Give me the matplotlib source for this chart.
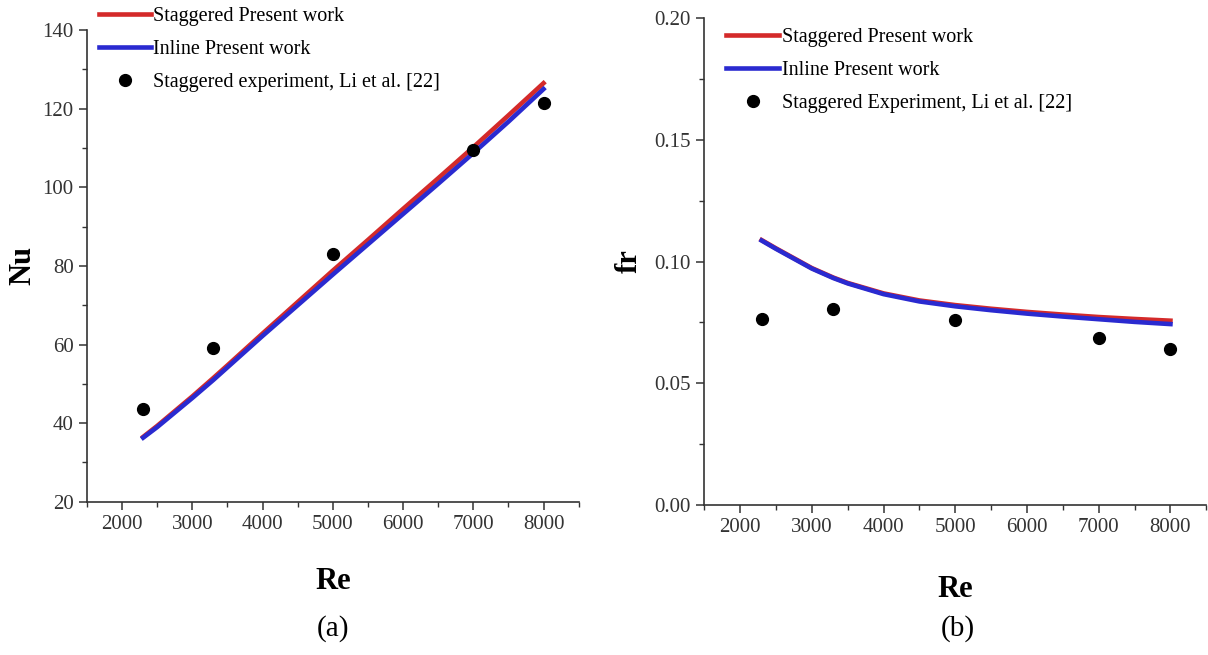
import matplotlib

matplotlib.use("Agg")
import matplotlib.pyplot as plt  # noqa: E402
from matplotlib.ticker import FormatStrFormatter, MultipleLocator  # noqa: E402

plt.rcParams["font.family"] = ["Liberation Serif", "DejaVu Serif"]

# (a) Nusselt number
re_line = [2300, 2500, 3000, 3300, 3500, 4000, 4500, 5000, 5500, 6000, 6500, 7000, 7500, 8000]
nu_stag = [36.5, 39.3, 46.8, 51.5, 54.7, 62.8, 70.8, 78.8, 86.6, 94.5, 102.3, 110.2, 118.3, 126.5]
nu_inline = [36.3, 39.0, 46.4, 51.0, 54.2, 62.2, 70.0, 77.8, 85.5, 93.2, 100.9, 108.7, 116.7, 125.0]
re_exp = [2300, 3300, 5000, 7000, 8000]
nu_exp = [43.5, 59.0, 83.0, 109.5, 121.5]

# (b) friction factor
fr_stag = [0.1088, 0.1054, 0.0973, 0.0934, 0.0912, 0.0869, 0.0840, 0.0821, 0.0806, 0.0793,
           0.0782, 0.0772, 0.0764, 0.0757]
fr_inline = [0.1086, 0.1052, 0.0971, 0.0932, 0.0910, 0.0866, 0.0836, 0.0816, 0.0800, 0.0786,
             0.0774, 0.0763, 0.0752, 0.0743]
fr_exp = [0.0765, 0.0805, 0.0760, 0.0685, 0.0640]

RED = "#d42a2a"
BLUE = "#2a2ad0"


def style_axes(ax):
    for side in ("top", "right"):
        ax.spines[side].set_visible(False)
    for side in ("left", "bottom"):
        ax.spines[side].set_color("#333333")
        ax.spines[side].set_linewidth(1.2)
    ax.tick_params(which="major", direction="out", length=6, width=1.1,
                   labelsize=15, colors="#333333")
    ax.tick_params(which="minor", direction="out", length=3.5, width=1.0, colors="#333333")
    ax.set_xlim(1500, 8500)
    ax.xaxis.set_major_locator(MultipleLocator(1000))
    ax.xaxis.set_minor_locator(MultipleLocator(500))


fig = plt.figure(figsize=(12.08, 6.55), dpi=100)

ax1 = fig.add_axes([0.072, 0.234, 0.407, 0.720])
ax1.plot(re_line, nu_stag, color=RED, lw=3.3, label="Staggered Present work")
ax1.plot(re_line, nu_inline, color=BLUE, lw=3.3, label="Inline Present work")
ax1.plot(re_exp, nu_exp, "o", color="black", ms=8.5, ls="none",
         label="Staggered experiment, Li et al. [22]")
ax1.set_ylim(20, 140)
ax1.yaxis.set_major_locator(MultipleLocator(20))
ax1.yaxis.set_minor_locator(MultipleLocator(10))
style_axes(ax1)
ax1.set_ylabel("Nu", fontsize=22, fontweight="bold", labelpad=4)
ax1.set_xlabel("Re", fontsize=22, fontweight="bold", labelpad=24)
ax1.legend(loc="upper left", bbox_to_anchor=(0.0, 1.075), frameon=False, fontsize=14.5,
           handlelength=2.6, handletextpad=0.1, labelspacing=0.7, borderaxespad=0.2)
fig.text(0.276, 0.041, "(a)", fontsize=21, ha="center", va="center")

ax2 = fig.add_axes([0.583, 0.229, 0.4156, 0.7435])
ax2.plot(re_line, fr_stag, color=RED, lw=3.3, label="Staggered Present work")
ax2.plot(re_line, fr_inline, color=BLUE, lw=3.3, label="Inline Present work")
ax2.plot(re_exp, fr_exp, "o", color="black", ms=8.5, ls="none",
         label="Staggered Experiment, Li et al. [22]")
ax2.set_ylim(0, 0.2)
ax2.yaxis.set_major_locator(MultipleLocator(0.05))
ax2.yaxis.set_minor_locator(MultipleLocator(0.025))
ax2.yaxis.set_major_formatter(FormatStrFormatter("%.2f"))
style_axes(ax2)
ax2.set_ylabel("fr", fontsize=22, fontweight="bold", labelpad=8)
ax2.set_xlabel("Re", fontsize=22, fontweight="bold", labelpad=27)
ax2.legend(loc="upper left", bbox_to_anchor=(0.02, 1.005), frameon=False, fontsize=14.5,
           handlelength=2.6, handletextpad=0.15, labelspacing=0.7, borderaxespad=0.2)
fig.text(0.793, 0.041, "(b)", fontsize=21, ha="center", va="center")

plt.savefig("out.png", dpi=100)
plt.close()
